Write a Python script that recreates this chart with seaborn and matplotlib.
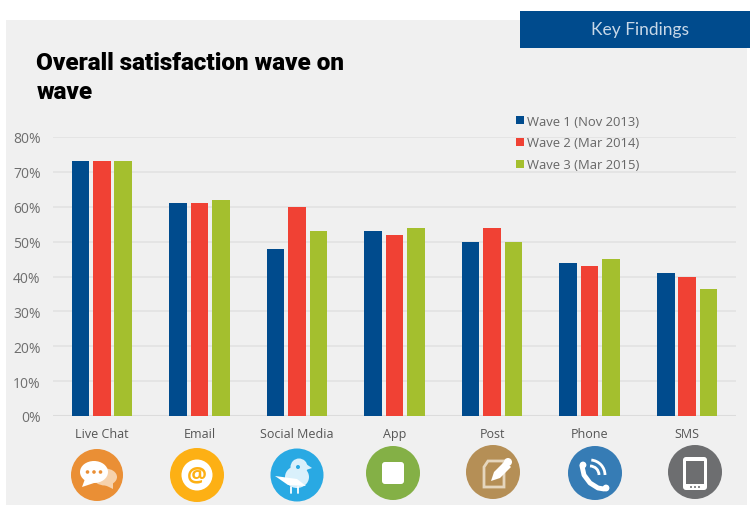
import matplotlib.pyplot as plt
from matplotlib.patches import Rectangle, Circle, Ellipse, FancyBboxPatch, Polygon, Arc
import pandas as pd
import seaborn as sns

channels = ["Live Chat", "Email", "Social Media", "App", "Post", "Phone", "SMS"]
wave_names = ["Wave 1 (Nov 2013)", "Wave 2 (Mar 2014)", "Wave 3 (Mar 2015)"]
wave1 = [73, 61, 48, 53, 50, 44, 41]
wave2 = [73, 61, 60, 52, 54, 43, 40]
wave3 = [73, 62, 53, 54, 50, 45, 36.5]
wave_colors = ["#004b8d", "#f04134", "#a4bf2e"]
y_ticks = [0, 10, 20, 30, 40, 50, 60, 70, 80]

df = pd.DataFrame({
    "channel": channels * 3,
    "wave": [w for w in wave_names for _ in channels],
    "value": wave1 + wave2 + wave3,
})

sns.set_theme(style="white")
plt.rcParams["font.family"] = ["Open Sans", "DejaVu Sans"]

fig = plt.figure(figsize=(7.5, 5.1), dpi=100, facecolor="white")

# background layer in pixel coords
bg = fig.add_axes([0, 0, 1, 1], zorder=0)
bg.set_xlim(0, 750)
bg.set_ylim(510, 0)
bg.axis("off")
bg.add_patch(Rectangle((6, 21), 741, 485, color="#f0f0f0", lw=0))
bg.add_patch(Rectangle((520, 12), 230, 37, color="#004b8d", lw=0))
bg.text(640, 29.5, "Key Findings", color="#c8d8e8", fontsize=12.5, family="Lato",
        ha="center", va="center")
bg.text(36.5, 63.5, "Overall satisfaction wave on", color="black", fontsize=17.5,
        family="Roboto", weight="black", va="center")
bg.text(36.5, 92.5, "wave", color="black", fontsize=17.5, family="Roboto",
        weight="black", va="center")

# chart
ax = fig.add_axes([53 / 750, (510 - 417) / 510, 683 / 750, 279 / 510], zorder=1)
ax.patch.set_alpha(0)
sns.barplot(data=df, x="channel", y="value", hue="wave", palette=wave_colors,
            width=0.66, gap=0.18, saturation=1, linewidth=0, ax=ax, legend=False, zorder=3)
ax.set_ylim(0, 80)
ax.set_xlim(-0.5, 6.5)
ax.set_yticks(y_ticks)
ax.set_yticklabels([f"{t}%" for t in y_ticks], fontsize=10, color="#6e6e6e")
ax.tick_params(axis="x", labelsize=9, labelcolor="#555555", pad=8, length=0)
ax.tick_params(axis="y", pad=9, length=0)
ax.set_xlabel("")
ax.set_ylabel("")
ax.grid(axis="y", color="#e2e2e2", lw=1.2, zorder=0)
ax.set_axisbelow(True)
sns.despine(ax=ax, left=True, bottom=True)
ax.axhline(0, color="#dcdcdc", lw=1.5, zorder=2)

# legend drawn by hand to place the swatches tightly
top = fig.add_axes([0, 0, 1, 1], zorder=2)
top.set_xlim(0, 750)
top.set_ylim(510, 0)
top.axis("off")
for name, color, y in zip(wave_names, wave_colors, [121, 143, 165]):
    top.add_patch(Rectangle((516, y - 4), 8, 8, color=color, lw=0))
    top.text(527, y + 1, name, fontsize=9.4, color="#666666", va="center")

# icons under the categories
W = "white"

# chat
top.add_patch(Circle((97, 476), 26, color="#ea8f35", lw=0))
top.add_patch(Ellipse((105, 478), 24, 17, color="#f6d2ac", lw=0))
top.add_patch(Polygon([(100, 484), (113, 482), (113, 490), (109, 488)], color="#f6d2ac", lw=0))
top.add_patch(Ellipse((94, 473), 28, 22, color=W, lw=0))
top.add_patch(Polygon([(85, 480), (94, 484), (82, 488)], color=W, lw=0))
for dx in [-6.5, 0, 6.5]:
    top.add_patch(Circle((94 + dx, 473), 1.8, color="#ea8f35", lw=0))

# email
top.add_patch(Circle((197, 476), 27, color="#fdb014", lw=0))
top.add_patch(Circle((197, 476), 15.5, color=W, lw=0))
top.text(197, 475.5, "@", fontsize=16, color="#fdb014", weight="bold",
         ha="center", va="center")

# bird
top.add_patch(Circle((297, 476), 26.5, color="#29a9e3", lw=0))
top.add_patch(Ellipse((297, 478), 24, 22, color="#d9f0fb", lw=0))
top.add_patch(Polygon([(275, 477), (297, 480), (306, 487), (288, 486)], color=W, lw=0))
top.add_patch(Circle((299, 468), 8.5, color="#d9f0fb", lw=0))
top.add_patch(Polygon([(306, 465), (312, 469), (306, 471)], color="#d9f0fb", lw=0))
top.add_patch(Circle((298, 468), 2, color="#29a9e3", lw=0))
top.plot([291, 291], [488, 494], color=W, lw=1.3)
top.plot([298, 298], [488, 494], color=W, lw=1.3)

# app
top.add_patch(Circle((393, 474), 27, color="#84b046", lw=0))
top.add_patch(FancyBboxPatch((385, 466), 16, 16, boxstyle="round,pad=3,rounding_size=3", color=W, lw=0))

# post
top.add_patch(Circle((493, 473), 27, color="#b58f56", lw=0))
top.add_patch(Polygon([(488, 462), (504, 462), (504, 488), (484, 488), (484, 468)],
                      fc="none", ec="#e5d6bd", lw=2))
top.add_patch(Polygon([(491, 482), (494, 473), (505, 462), (511, 468), (500, 479)], color=W, lw=0))
top.add_patch(Circle((508, 463), 4, color=W, lw=0))

# phone
top.add_patch(Circle((595, 474), 27, color="#367cb5", lw=0))
top.plot([582, 584, 590, 598, 604], [467, 476, 484, 489, 490], color=W, lw=3.5,
         solid_capstyle="round")
top.add_patch(Circle((583, 466), 3.4, color=W, lw=0))
top.add_patch(Circle((606, 489), 3.4, color=W, lw=0))
top.add_patch(Arc((590, 476), 18, 18, theta1=-90, theta2=0, color=W, lw=2))
top.add_patch(Arc((590, 476), 30, 30, theta1=-85, theta2=0, color=W, lw=2))

# sms
top.add_patch(Circle((695, 473), 27, color="#6d6e70", lw=0))
top.add_patch(FancyBboxPatch((684, 459), 22, 31, boxstyle="round,pad=1,rounding_size=3", color=W, lw=0))
top.add_patch(Rectangle((686, 462), 18, 23, color="#6d6e70", lw=0))
for dx in [-4, 0, 4]:
    top.add_patch(Circle((695 + dx, 488), 1, color="#6d6e70", lw=0))

fig.savefig("out.png", dpi=100)
